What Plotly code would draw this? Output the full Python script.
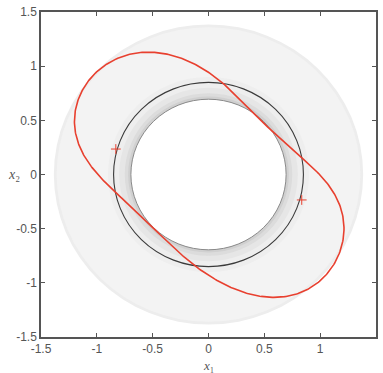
import numpy as np
import plotly.graph_objects as go

# ---- data (points traced along the red closed orbit) ----
orbit_x = [1.216, 1.192, 1.133, 1.029, 0.866, 0.688, 0.510, 0.361, 0.212, 0.060,
           -0.025, -0.190, -0.440, -0.618, -0.797, -0.975, -1.108, -1.182, -1.206,
           -1.182, -1.120, -1.020, -0.855, -0.618, -0.440, -0.280, -0.120, 0.123,
           0.332, 0.539, 0.747, 0.925, 1.073, 1.178]
orbit_y = [-0.490, -0.350, -0.190, -0.029, 0.125, 0.279, 0.464, 0.617, 0.771, 0.890,
           0.956, 1.058, 1.125, 1.125, 1.078, 0.971, 0.802, 0.648, 0.494,
           0.340, 0.190, 0.033, -0.145, -0.366, -0.551, -0.705, -0.850, -0.997,
           -1.089, -1.136, -1.120, -1.043, -0.889, -0.705]
mark_x = [-0.830, 0.835]
mark_y = [0.235, -0.235]
circle_r = 0.85
band_radii = [1.385, 1.36, 0.90, 0.80, 0.75, 0.72]
inner_r = 0.695
tick_vals = [-1.5, -1, -0.5, 0, 0.5, 1, 1.5]
tick_text = ["-1.5", "-1", "-0.5", "0", "0.5", "1", "1.5"]

band_fills = ["#ededed", "#f3f3f3", "#eeeeee", "#e6e6e6", "#dcdcdc", "#d0d0d0"]

# smooth closed curve through the traced points (least-squares Fourier fit)
px = np.array(orbit_x)
py = np.array(orbit_y)
seg = np.hypot(np.diff(np.r_[px, px[0]]), np.diff(np.r_[py, py[0]]))
t = 2 * np.pi * np.r_[0, np.cumsum(seg)[:-1]] / seg.sum()
K = 5
def basis(tt):
    cols = [np.ones_like(tt)]
    for k in range(1, K + 1):
        cols += [np.cos(k * tt), np.sin(k * tt)]
    return np.column_stack(cols)
cx, *_ = np.linalg.lstsq(basis(t), px, rcond=None)
cy, *_ = np.linalg.lstsq(basis(t), py, rcond=None)
tt = np.linspace(0, 2 * np.pi, 500)
curve_x = basis(tt) @ cx
curve_y = basis(tt) @ cy

shapes = []
for r, c in zip(band_radii, band_fills):
    shapes.append(dict(type="circle", xref="x", yref="y", x0=-r, y0=-r, x1=r, y1=r,
                       fillcolor=c, line=dict(width=0), layer="below"))
shapes.append(dict(type="circle", xref="x", yref="y", x0=-inner_r, y0=-inner_r,
                   x1=inner_r, y1=inner_r, fillcolor="white",
                   line=dict(color="#8a8a8a", width=1), layer="below"))
shapes.append(dict(type="circle", xref="x", yref="y", x0=-circle_r, y0=-circle_r,
                   x1=circle_r, y1=circle_r, fillcolor="rgba(0,0,0,0)",
                   line=dict(color="#3a3a3a", width=1.1), layer="below"))

fig = go.Figure()
fig.add_trace(go.Scatter(x=curve_x, y=curve_y, mode="lines",
                         line=dict(color="#e8402f", width=1.6),
                         hoverinfo="skip"))
fig.add_trace(go.Scatter(x=mark_x, y=mark_y, mode="markers",
                         marker=dict(symbol="cross-thin", size=7,
                                     line=dict(color="#e8402f", width=1)),
                         hoverinfo="skip"))

tick_font = dict(family="Liberation Sans Narrow, Arial Narrow, Liberation Sans, sans-serif",
                 size=12, color="#555555")
axis_common = dict(range=[-1.5, 1.5], tickmode="array", tickvals=tick_vals, ticktext=tick_text,
                   ticks="inside", ticklen=4, tickcolor="#555555", tickwidth=1,
                   showline=True, linecolor="#555555", linewidth=1.5, mirror="ticks",
                   showgrid=False, zeroline=False, tickfont=tick_font)

fig.update_layout(
    width=383, height=373,
    margin=dict(l=41, r=5, t=11, b=36),
    paper_bgcolor="white", plot_bgcolor="white",
    showlegend=False,
    shapes=shapes,
    xaxis=dict(**axis_common),
    yaxis=dict(**axis_common),
    annotations=[
        dict(text="<i>x</i>₁", xref="paper", yref="paper", x=0.5, y=0,
             yshift=-19, xanchor="center", yanchor="top", showarrow=False,
             font=dict(family="Liberation Serif, serif", size=13, color="#555555")),
        dict(text="<i>x</i>₂", xref="paper", yref="paper", x=0, y=0.5,
             xshift=-19, xanchor="right", yanchor="middle", showarrow=False,
             font=dict(family="Liberation Serif, serif", size=14, color="#555555")),
    ],
)

fig.write_html("out.html")
